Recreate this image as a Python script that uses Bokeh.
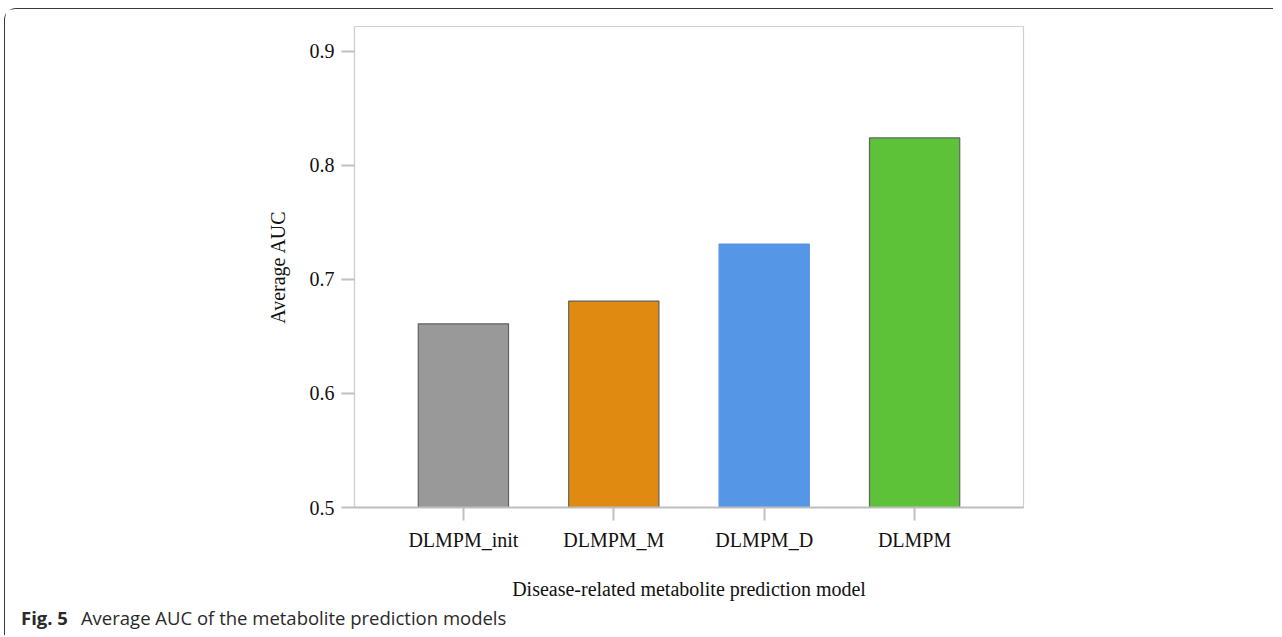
from bokeh.plotting import figure
from bokeh.models import FactorRange, Range1d, FixedTicker, ColumnDataSource, Div
from bokeh.layouts import column
from bokeh.embed import file_html
from bokeh.resources import INLINE

models = ["DLMPM_init", "DLMPM_M", "DLMPM_D", "DLMPM"]
auc = [0.661, 0.681, 0.731, 0.824]
fill_colors = ["#999999", "#E08A12", "#5596E6", "#5DC238"]
line_colors = ["#5f6462", "#5f6462", "#5596E6", "#5f6462"]
y_ticks = [0.5, 0.6, 0.7, 0.8, 0.9]
caption_label = "Fig. 5"
caption_text = "Average AUC of the metabolite prediction models"

source = ColumnDataSource(dict(model=models, auc=auc, fill=fill_colors, line=line_colors))

p = figure(
    x_range=FactorRange(factors=models, range_padding=0.112),
    y_range=Range1d(0.5, 0.9217),
    frame_width=669, frame_height=481,
    min_border_left=349, min_border_right=250, min_border_top=17, min_border_bottom=98,
    output_backend="svg", toolbar_location=None, margin=0,
)

p.vbar(x="model", top="auc", bottom=0.5, width=0.6, source=source,
       fill_color="fill", line_color="line", line_width=1.2)

p.xgrid.visible = False
p.ygrid.visible = False
p.outline_line_color = "#d0d0d0"
p.outline_line_width = 1.2
p.background_fill_color = "white"
p.border_fill_color = "white"

serif = "Liberation Serif"
# y axis
p.yaxis.ticker = FixedTicker(ticks=y_ticks)
p.yaxis.minor_tick_line_color = None
p.yaxis.major_tick_out = 13
p.yaxis.major_tick_in = 0
p.yaxis.major_tick_line_color = "#c0c0c0"
p.yaxis.major_tick_line_width = 2
p.yaxis.axis_line_color = "#d0d0d0"
p.yaxis.axis_line_width = 1.2
p.yaxis.major_label_text_font = serif
p.yaxis.major_label_text_font_size = "20px"
p.yaxis.major_label_text_color = "#111111"
p.yaxis.major_label_standoff = 7
p.yaxis.axis_label = "Average AUC"
p.yaxis.axis_label_text_font = serif
p.yaxis.axis_label_text_font_size = "20px"
p.yaxis.axis_label_text_font_style = "normal"
p.yaxis.axis_label_text_color = "#111111"
p.yaxis.axis_label_standoff = 18

# x axis
p.xaxis.major_tick_out = 13
p.xaxis.major_tick_in = 0
p.xaxis.major_tick_line_color = "#c0c0c0"
p.xaxis.major_tick_line_width = 2
p.xaxis.axis_line_color = "#bdbdbd"
p.xaxis.axis_line_width = 2
p.xaxis.major_label_text_font = serif
p.xaxis.major_label_text_font_size = "20px"
p.xaxis.major_label_text_color = "#111111"
p.xaxis.major_label_standoff = 8
p.xaxis.axis_label = "Disease-related metabolite prediction model"
p.xaxis.axis_label_text_font = serif
p.xaxis.axis_label_text_font_size = "20px"
p.xaxis.axis_label_text_font_style = "normal"
p.xaxis.axis_label_text_color = "#111111"
p.xaxis.axis_label_standoff = 24

cap = Div(
    text=(f'<b>{caption_label}</b>'
          f'<span style="margin-left:13px">{caption_text}</span>'),
    width=1200, height=30, margin=0,
    styles={"font-family": "Open Sans", "font-size": "18.5px", "color": "#2a2a2a",
            "padding-left": "16px", "line-height": "26px", "white-space": "nowrap"},
)

layout = column(p, cap, spacing=0,
                styles={"border-top": "1.5px solid #3a3a3a", "border-left": "1.5px solid #3a3a3a",
                        "border-top-left-radius": "12px", "margin-left": "4px",
                        "margin-top": "8px", "background-color": "white"})

open("out.html", "w").write(file_html(layout, INLINE))
